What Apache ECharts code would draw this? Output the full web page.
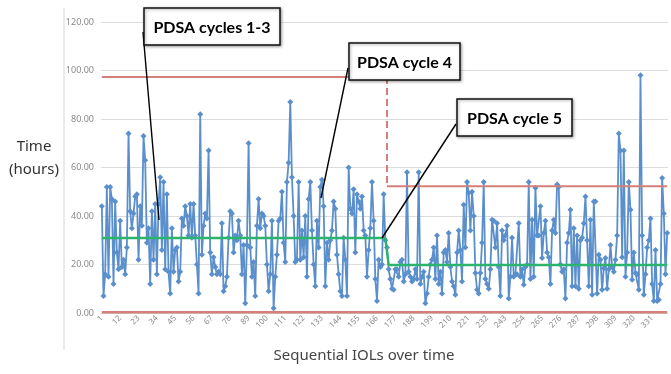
<!DOCTYPE html>
<html>
<head>
<meta charset="utf-8">
<script src="https://cdn.jsdelivr.net/npm/echarts@6/dist/echarts.min.js"></script>
<style>
  html, body { margin: 0; padding: 0; background: #fff; }
  #chart { width: 671px; height: 374px; }
</style>
</head>
<body>
<div id="chart"></div>
<script>
// time per IOL (hours)
const hours = [
  44, 7, 16, 52, 15, 52, 47, 12, 46, 25,
  18, 38, 19, 22, 16, 27, 74, 42, 35, 41,
  48, 49, 22, 44, 36, 73, 63, 29, 35, 12,
  42, 22, 45, 16, 45, 56, 26, 54, 18, 49,
  17, 8, 35, 17, 26, 27, 13, 17, 39, 36,
  44, 40, 32, 45, 31, 45, 32, 20, 8, 82,
  24, 36, 41, 39, 67, 25, 16, 23, 19, 16,
  17, 16, 37, 9, 11, 15, 31, 42, 41, 25,
  32, 30, 38,
  32, 16, 28, 4, 28, 70, 27, 15, 21, 7,
  36, 47, 35, 41, 40, 36, 20, 9, 16, 38,
  2, 15, 24, 38, 39, 50, 29, 21, 54, 62,
  87, 56, 40, 21, 22, 54, 22, 34, 23, 40,
  15, 47, 54, 34, 20, 11, 38, 27, 52, 55,
  44, 11, 29, 22, 30, 34, 46, 43, 24, 16,
  9, 7, 31, 22, 7, 60, 43, 41, 51, 25,
  49, 46, 43, 48, 34, 32, 15, 26, 35, 54,
  38, 14, 5, 22, 19, 20, 49, 30, 27, 18,
  14, 10, 9.6, 18, 18, 15, 21, 22, 13, 16,
  58, 17, 15, 13, 14, 18, 14, 58, 12, 15,
  17, 4, 8, 15, 20, 22, 27, 14, 32, 12,
  17, 8, 25, 26, 21, 33, 19,
  13, 11,
  7.5, 25, 34, 26, 13, 44.6, 27, 54, 49.5, 34,
  50, 40, 16.5, 9.6, 8, 16.5, 29, 54, 14, 12,
  10, 18, 38.5, 38, 27, 37, 19, 7, 34, 30,
  32, 36, 6, 15, 31, 15, 16, 16, 37, 15,
  18, 11.7, 19, 20, 54, 14, 38.5, 15, 51.5, 32,
  32, 44, 22.7, 33, 38, 25, 23, 12, 34, 38.5,
  33, 53, 52, 20, 17, 18, 6, 29, 33, 42.6,
  11, 35, 11, 32, 10, 30, 31, 37, 48, 30,
  11, 38.5, 7.5, 46, 46, 8, 24, 22, 9.6, 18.5,
  22.7, 10, 18, 28, 19, 17, 22, 32, 74, 67,
  23, 67, 15, 25, 54, 42.6, 13.7, 25, 16.5, 16,
  9.6, 98, 32, 7.5, 16, 27, 30, 39, 12, 5,
  26, 5, 5.5, 12, 55.7, 41, 16, 33
]

const iolNumbers = hours.map((_, i) => String(i + 1))
const yTicks = [0, 20, 40, 60, 80, 100, 120]

// control limits: before / after PDSA cycle 5
const phaseBreak = 171 // index of last IOL of the first phase
const meanLine = [30.9, 19.8]
const upperLimit = [97.3, 52.3]
const lowerLimit = 0.3

const blue = '#5a8fcc'
const green = '#2cb46c'
const red = '#d4807a'
const last = hours.length - 1

const chart = echarts.init(document.getElementById('chart'))

// 注释框
function noteBox(x, y, w, h, label) {
  return {
    type: 'group',
    x, y,
    children: [
      {
        type: 'rect',
        z: 100,
        shape: { x: 0, y: 0, width: w, height: h },
        style: {
          fill: '#fff', stroke: '#111', lineWidth: 1.5,
          shadowBlur: 3, shadowColor: 'rgba(0,0,0,0.35)', shadowOffsetX: 1, shadowOffsetY: 1
        }
      },
      {
        type: 'text',
        z: 101,
        style: {
          x: w / 2, y: h / 2 + 1, text: label,
          align: 'center', verticalAlign: 'middle',
          font: 'bold 16px Lato, "Noto Sans", sans-serif', fill: '#000'
        }
      }
    ]
  }
}

function pointer(x1, y1, x2, y2) {
  return {
    type: 'line', z: 99,
    shape: { x1, y1, x2, y2 },
    style: { stroke: '#000', lineWidth: 1.4 }
  }
}

const option = {
  animation: false,
  backgroundColor: '#fff',
  grid: { left: 101, right: 3, top: 22, bottom: 61 },
  xAxis: {
    type: 'category',
    data: iolNumbers,
    boundaryGap: true,
    axisLine: { show: true, lineStyle: { color: '#d9d9d9' } },
    axisTick: { show: false },
    axisLabel: {
      interval: 10, rotate: 45, fontSize: 8, color: '#8a8a8a',
      fontFamily: '"Noto Sans", sans-serif', margin: 4
    },
    splitLine: { show: false }
  },
  yAxis: {
    type: 'value',
    min: yTicks[0],
    max: yTicks[yTicks.length - 1],
    interval: yTicks[1] - yTicks[0],
    axisLine: { show: false },
    axisTick: { show: false },
    axisLabel: {
      fontSize: 9, color: '#8a8a8a', margin: 7,
      fontFamily: '"Noto Sans", sans-serif',
      formatter: v => v.toFixed(2)
    },
    splitLine: { lineStyle: { color: '#dcdcdc', width: 1 } }
  },
  series: [
    {
      name: 'Time',
      type: 'line',
      data: hours,
      symbol: 'diamond',
      symbolSize: 6,
      showAllSymbol: true,
      itemStyle: { color: blue },
      lineStyle: { color: blue, width: 1.8 },
      z: 3
    },
    {
      name: 'Mean',
      type: 'line',
      data: hours.map((_, i) => (i <= phaseBreak ? meanLine[0] : meanLine[1])),
      symbol: 'none',
      lineStyle: { color: green, width: 2.4 },
      z: 5
    },
    {
      name: 'UCL 1',
      type: 'line',
      data: [[0, upperLimit[0]], [phaseBreak, upperLimit[0]]],
      symbol: 'none',
      lineStyle: { color: red, width: 2 },
      z: 4
    },
    {
      name: 'UCL step',
      type: 'line',
      data: [[phaseBreak, upperLimit[0]], [phaseBreak, upperLimit[1]]],
      symbol: 'none',
      lineStyle: { color: red, width: 2, type: [7, 4] },
      z: 4
    },
    {
      name: 'UCL 2',
      type: 'line',
      data: [[phaseBreak, upperLimit[1]], [last, upperLimit[1]]],
      symbol: 'none',
      lineStyle: { color: red, width: 2 },
      z: 4
    },
    {
      name: 'LCL',
      type: 'line',
      data: [[0, lowerLimit], [last, lowerLimit]],
      symbol: 'none',
      lineStyle: { color: red, width: 2.5 },
      z: 4
    }
  ],
  graphic: [
    {
      type: 'line', z: 1,
      shape: { x1: 64, y1: 8, x2: 64, y2: 350 },
      style: { stroke: '#d6d6d6', lineWidth: 1 }
    },
    {
      type: 'text',
      style: {
        x: 34, y: 147, text: 'Time', align: 'center', verticalAlign: 'middle',
        font: '15px "Noto Sans", sans-serif', fill: '#333'
      }
    },
    {
      type: 'text',
      style: {
        x: 34, y: 170, text: '(hours)', align: 'center', verticalAlign: 'middle',
        font: '15px "Noto Sans", sans-serif', fill: '#333'
      }
    },
    {
      type: 'text',
      style: {
        x: 364, y: 356, text: 'Sequential IOLs over time', align: 'center', verticalAlign: 'middle',
        font: '15px "Noto Sans", sans-serif', fill: '#444'
      }
    },
    pointer(143, 32, 159, 220),
    pointer(348, 68, 321, 198),
    pointer(456, 124, 382, 238),
    noteBox(144, 8, 136, 37, 'PDSA cycles 1-3'),
    noteBox(349, 43, 111, 37, 'PDSA cycle 4'),
    noteBox(457, 99, 115, 37, 'PDSA cycle 5')
  ]
}

chart.setOption(option)
</script>
</body>
</html>
